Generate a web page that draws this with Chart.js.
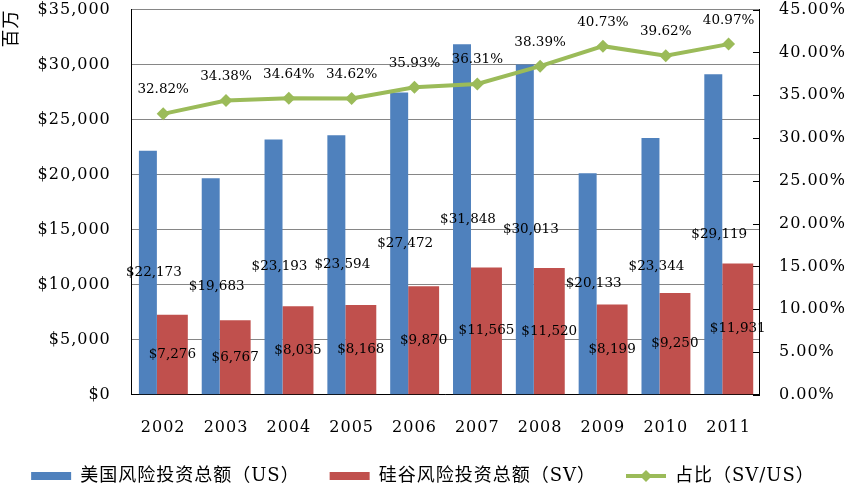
<!DOCTYPE html>
<html><head><meta charset="utf-8">
<script src="https://cdn.jsdelivr.net/npm/chart.js@4.4.0/dist/chart.umd.min.js"></script>
<style>html,body{margin:0;padding:0;background:#fff;} canvas{display:block;}</style>
</head><body>
<canvas id="c" width="850" height="491"></canvas>
<script>
// ---- data ----
const years = ['2002','2003','2004','2005','2006','2007','2008','2009','2010','2011'];
const usTotal = [22173, 19683, 23193, 23594, 27472, 31848, 30013, 20133, 23344, 29119];
const svTotal = [7276, 6767, 8035, 8168, 9870, 11565, 11520, 8199, 9250, 11931];
const svShare = [32.82, 34.38, 34.64, 34.62, 35.93, 36.31, 38.39, 40.73, 39.62, 40.97];
const usLabel = '美国风险投资总额（US）';
const svLabel = '硅谷风险投资总额（SV）';
const shareLabel = '占比（SV/US）';
const yTitle = '百万';

// ---- styles ----
const SERIF = "'DejaVu Serif', 'Noto Sans CJK SC', serif";
const BLUE = '#4F81BD', RED = '#C0504D', GREEN = '#9BBB59';
const SPACING = '1px';

const fmtMoney = v => '$' + String(Math.round(v)).replace(/\B(?=(\d{3})+(?!\d))/g, ',');
const fmtPct = v => Number(v).toFixed(2) + '%';
const empty = years.map(() => null);

// legend icon for the line series
const lineIcon = document.createElement('canvas');
lineIcon.width = 40; lineIcon.height = 14;
(function(){
  const g = lineIcon.getContext('2d');
  g.strokeStyle = GREEN; g.lineWidth = 4;
  g.beginPath(); g.moveTo(0, 7); g.lineTo(40, 7); g.stroke();
  g.fillStyle = GREEN;
  g.beginPath(); g.moveTo(20, 1); g.lineTo(26, 7); g.lineTo(20, 13); g.lineTo(14, 7); g.closePath(); g.fill();
})();

const spacingPlugin = {
  id: 'spacing',
  beforeLayout(chart) { chart.ctx.letterSpacing = SPACING; },
  beforeDraw(chart) { chart.ctx.letterSpacing = SPACING; }
};

// inward tick marks on the right axis
const innerTicks = {
  id: 'innerTicks',
  afterDraw(chart) {
    const s = chart.scales.y1, ctx = chart.ctx;
    ctx.save();
    ctx.strokeStyle = '#000'; ctx.lineWidth = 1;
    s.ticks.forEach((t, i) => {
      const y = Math.round(s.getPixelForTick(i)) + 0.5;
      ctx.beginPath(); ctx.moveTo(s.left - 7, y); ctx.lineTo(s.left, y); ctx.stroke();
    });
    ctx.restore();
  }
};

const valueLabels = {
  id: 'valueLabels',
  afterDatasetsDraw(chart) {
    const ctx = chart.ctx;
    ctx.save();
    ctx.letterSpacing = '0px';
    ctx.font = '13.5px ' + SERIF;
    ctx.fillStyle = '#000';
    ctx.textAlign = 'center';
    ctx.textBaseline = 'middle';
    chart.getDatasetMeta(0).data.forEach((bar, i) => {
      const p = bar.getProps(['x', 'y', 'base', 'width'], true);
      ctx.fillText(fmtMoney(usTotal[i]), p.x + p.width / 3, (p.y + p.base) / 2);
    });
    chart.getDatasetMeta(4).data.forEach((bar, i) => {
      const p = bar.getProps(['x', 'y', 'base'], true);
      ctx.fillText(fmtMoney(svTotal[i]), p.x, (p.y + p.base) / 2);
    });
    chart.getDatasetMeta(6).data.forEach((pt, i) => {
      ctx.fillText(fmtPct(svShare[i]), pt.x, pt.y - 24);
    });
    ctx.restore();
  }
};

const CP = 0.584;
const tickFont = { family: SERIF, size: 16 };
const spacer = () => ({ type: 'bar', label: '', data: empty, categoryPercentage: CP, barPercentage: 1 });

new Chart(document.getElementById('c'), {
  data: {
    labels: years,
    datasets: [
      { type: 'bar', label: usLabel, data: usTotal, backgroundColor: BLUE, borderWidth: 0,
        categoryPercentage: CP, barPercentage: 2.94 },
      spacer(), spacer(), spacer(),
      { type: 'bar', label: svLabel, data: svTotal, backgroundColor: RED, borderWidth: 0,
        categoryPercentage: CP, barPercentage: 5.06 },
      spacer(),
      { type: 'line', label: shareLabel, data: svShare, borderColor: GREEN, backgroundColor: GREEN,
        borderWidth: 4, tension: 0, pointStyle: 'rectRot', pointRadius: 6.5, pointBorderWidth: 0,
        pointBackgroundColor: GREEN, pointBorderColor: GREEN, yAxisID: 'y1', order: -1 }
    ]
  },
  options: {
    responsive: false,
    devicePixelRatio: 1,
    animation: false,
    layout: { padding: { left: 0, right: 4, top: 0, bottom: -4 } },
    scales: {
      x: { type: 'category', position: 'bottom', offset: true,
        grid: { display: true, drawOnChartArea: false, drawTicks: true, tickLength: 23,
          color: 'rgba(0,0,0,0)', tickColor: 'rgba(0,0,0,0)' },
        border: { display: true, color: '#000', width: 1 },
        ticks: { font: tickFont, color: '#000', padding: 0, maxRotation: 0, autoSkip: false } },
      y: { position: 'left', min: 0, max: 35000,
        grid: { color: '#868686', lineWidth: 1, drawTicks: true, tickLength: 21, tickColor: 'rgba(0,0,0,0)' },
        border: { color: '#000', width: 1 },
        ticks: { stepSize: 5000, callback: v => fmtMoney(v), font: tickFont, color: '#000', padding: 0 },
        title: { display: true, text: yTitle, align: 'end', color: '#000',
          font: { family: SERIF, size: 18 }, padding: { top: 2, bottom: 14 } } },
      y1: { position: 'right', min: 0, max: 45,
        grid: { drawOnChartArea: false, drawTicks: true, tickLength: 19, tickColor: 'rgba(0,0,0,0)' },
        border: { color: '#000', width: 1 },
        ticks: { stepSize: 5, callback: v => fmtPct(v), font: tickFont, color: '#000', padding: 0 } }
    },
    plugins: {
      tooltip: { enabled: false },
      legend: {
        position: 'bottom',
        labels: {
          usePointStyle: true, pointStyleWidth: 40, boxHeight: 8, padding: 30,
          color: '#000', font: { family: SERIF, size: 18 },
          generateLabels(chart) {
            const items = Chart.defaults.plugins.legend.labels.generateLabels(chart);
            return items.filter(it => it.text !== '')
              .sort((a, b) => a.datasetIndex - b.datasetIndex)
              .map(it => {
                it.pointStyle = it.datasetIndex === 6 ? lineIcon : 'rect';
                it.lineWidth = 0;
                it.strokeStyle = 'rgba(0,0,0,0)';
                return it;
              });
          }
        }
      }
    }
  },
  plugins: [spacingPlugin, valueLabels, innerTicks]
});
</script>
</body></html>
